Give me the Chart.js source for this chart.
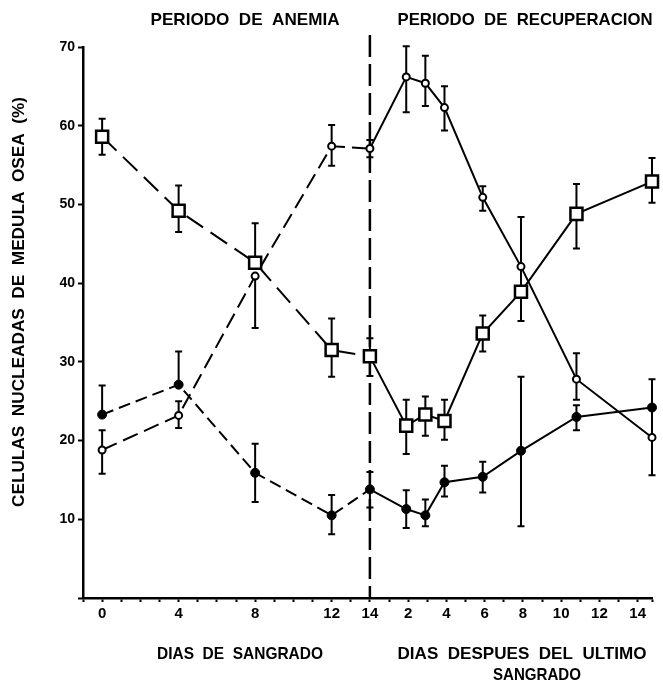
<!DOCTYPE html>
<html>
<head>
<meta charset="utf-8">
<script src="https://cdn.jsdelivr.net/npm/chart.js@4"></script>
<style>
  html, body { margin: 0; padding: 0; background: #fff; }
  #wrap { width: 663px; height: 684px; }
</style>
</head>
<body>
<div id="wrap"><canvas id="chart" width="663" height="684"></canvas></div>
<script>
// x positions: bleeding days, then days after the last bleeding (offset by 14)
const bleedDays = [0, 4, 8, 12, 14];
const recoveryDays = [1.9, 2.9, 3.9, 5.9, 7.9, 10.8, 14.75];

// squares
const squareMean = [58.6, 49.2, 42.6, 31.5, 30.7, 21.9, 23.3, 22.5, 33.6, 38.9, 48.8, 52.9];
const squareHi   = [60.9, 52.4, 47.6, 35.5, 33.0, 25.2, 25.6, 25.2, 35.9, 48.4, 52.6, 55.9];
const squareLo   = [56.3, 46.5, 42.6, 28.1, 28.2, 18.3, 20.6, 20.1, 31.3, 35.2, 44.4, 50.2];

// open circles
const openMean = [18.8, 23.2, 40.9, 57.4, 57.1, 66.2, 65.4, 62.3, 50.9, 42.1, 27.8, 20.4];
const openHi   = [21.3, 25.0, 40.9, 60.1, 58.2, 70.1, 68.9, 65.0, 52.3, 42.1, 31.1, 20.4];
const openLo   = [15.8, 21.6, 34.3, 54.9, 56.0, 61.7, 62.5, 59.4, 49.2, 42.1, 25.2, 20.4];

// filled circles
const filledMean = [23.3, 27.1, 15.9, 10.5, 13.8, 11.3, 10.5, 14.7, 15.4, 18.7, 23.0, 24.2];
const filledHi   = [27.0, 31.3, 19.6, 13.1, 16.0, 13.7, 12.5, 16.8, 17.3, 28.1, 24.5, 27.8];
const filledLo   = [23.3, 27.1, 12.2, 8.1, 11.5, 8.9, 9.1, 12.9, 13.4, 9.1, 21.3, 15.6];

const xTickLabels = {0: '0', 4: '4', 8: '8', 12: '12', 14: '14', 16: '2', 18: '4', 20: '6', 22: '8', 24: '10', 26: '12', 28: '14'};

const xs = bleedDays.concat(recoveryDays.map(d => 14 + d));
const toPoints = vals => vals.map((v, i) => ({x: xs[i], y: v}));

const FONT = '"Liberation Sans", Arial, sans-serif';
const X_MIN = -1, X_MAX = 28.75;

function dashFor(pattern) {
  return ctx => (ctx.p1.parsed.x <= 14 ? pattern : undefined);
}

function series(vals, dash, style) {
  return Object.assign({
    data: toPoints(vals),
    borderColor: '#000',
    borderWidth: 2,
    tension: 0,
    clip: false,
    segment: { borderDash: dashFor(dash) }
  }, style);
}

const errorSets = [
  [squareMean, squareHi, squareLo],
  [openMean, openHi, openLo],
  [filledMean, filledHi, filledLo]
];

const errorBars = {
  id: 'errorBars',
  beforeDatasetsDraw(chart) {
    const {ctx, scales: {x, y}} = chart;
    ctx.save();
    ctx.strokeStyle = '#000';
    ctx.lineWidth = 2;
    errorSets.forEach(([mean, hi, lo]) => {
      mean.forEach((m, i) => {
        const px = x.getPixelForValue(xs[i]);
        const pt = y.getPixelForValue(hi[i]);
        const pb = y.getPixelForValue(lo[i]);
        ctx.beginPath();
        ctx.moveTo(px, pt);
        ctx.lineTo(px, pb);
        if (hi[i] !== m) { ctx.moveTo(px - 3.5, pt); ctx.lineTo(px + 3.5, pt); }
        if (lo[i] !== m) { ctx.moveTo(px - 3.5, pb); ctx.lineTo(px + 3.5, pb); }
        ctx.stroke();
      });
    });
    ctx.restore();
  }
};

function fitText(ctx, text, cx, cy, width, size) {
  ctx.font = 'bold ' + size + 'px ' + FONT;
  const w = ctx.measureText(text).width;
  ctx.save();
  ctx.translate(cx, cy);
  ctx.scale(width / w, 1);
  ctx.fillText(text, 0, 0);
  ctx.restore();
}

const decorations = {
  id: 'decorations',
  beforeDatasetsDraw(chart) {
    const {ctx, scales: {x, y}} = chart;
    const px = x.getPixelForValue(14);
    ctx.save();
    ctx.strokeStyle = '#000';
    ctx.lineWidth = 2.5;
    ctx.setLineDash([22, 7]);
    ctx.beginPath();
    ctx.moveTo(px, 35);
    ctx.lineTo(px, y.bottom);
    ctx.stroke();
    ctx.restore();
  },
  afterDraw(chart) {
    const ctx = chart.ctx;
    ctx.save();
    ctx.fillStyle = '#000';
    ctx.textAlign = 'center';
    ctx.textBaseline = 'middle';
    fitText(ctx, 'PERIODO  DE  ANEMIA', 245, 20, 189, 17);
    fitText(ctx, 'PERIODO  DE  RECUPERACION', 525, 20, 255, 17);
    fitText(ctx, 'DIAS  DE  SANGRADO', 240, 654, 166, 17);
    fitText(ctx, 'DIAS  DESPUES  DEL  ULTIMO', 522, 654, 249, 17);
    fitText(ctx, 'SANGRADO', 537, 675, 88, 17);
    ctx.save();
    ctx.translate(19, 302);
    ctx.rotate(-Math.PI / 2);
    fitText(ctx, 'CELULAS  NUCLEADAS  DE  MEDULA  OSEA  (%)', 0, 0, 410, 17);
    ctx.restore();
    ctx.restore();
  }
};

new Chart(document.getElementById('chart').getContext('2d'), {
  type: 'line',
  data: {
    datasets: [
      series(squareMean, [20, 9], {
        pointStyle: 'rect', pointRadius: 8.5, pointBorderWidth: 2.5,
        pointBackgroundColor: '#fff', pointBorderColor: '#000'
      }),
      series(openMean, [16, 7], {
        pointStyle: 'circle', pointRadius: 3.5, pointBorderWidth: 2,
        pointBackgroundColor: '#fff', pointBorderColor: '#000'
      }),
      series(filledMean, [12, 6], {
        pointStyle: 'circle', pointRadius: 4.5, pointBorderWidth: 1,
        pointBackgroundColor: '#000', pointBorderColor: '#000'
      })
    ]
  },
  options: {
    responsive: false,
    animation: false,
    layout: { padding: { top: 47, right: 8, bottom: 0, left: 0 } },
    plugins: { legend: { display: false }, tooltip: { enabled: false } },
    scales: {
      x: {
        type: 'linear',
        min: X_MIN,
        max: X_MAX,
        afterFit: s => { s.height = 86; },
        afterBuildTicks: s => {
          // a tick mark on every day, plus one at the end of the axis
          const t = [];
          for (let v = X_MIN; v <= 28; v++) t.push({value: v});
          t.push({value: X_MAX});
          s.ticks = t;
        },
        border: { color: '#000', width: 2.5 },
        grid: { drawOnChartArea: false, drawTicks: true, tickLength: 4, tickWidth: 2, tickColor: '#000' },
        ticks: {
          autoSkip: false,
          maxRotation: 0,
          padding: 3,
          color: '#000',
          font: { family: FONT, size: 15, weight: 'bold' },
          callback: v => xTickLabels[v] || ''
        }
      },
      y: {
        min: 0,
        max: 70,
        afterFit: s => { s.width = 83; },
        border: { color: '#000', width: 2.5 },
        grid: { drawOnChartArea: false, drawTicks: true, tickLength: 5, tickWidth: 2, tickColor: '#000' },
        ticks: {
          stepSize: 10,
          padding: 3,
          color: '#000',
          font: { family: FONT, size: 14, weight: 'bold' },
          callback: v => (v === 0 ? '' : String(v))
        }
      }
    }
  },
  plugins: [errorBars, decorations]
});
</script>
</body>
</html>
